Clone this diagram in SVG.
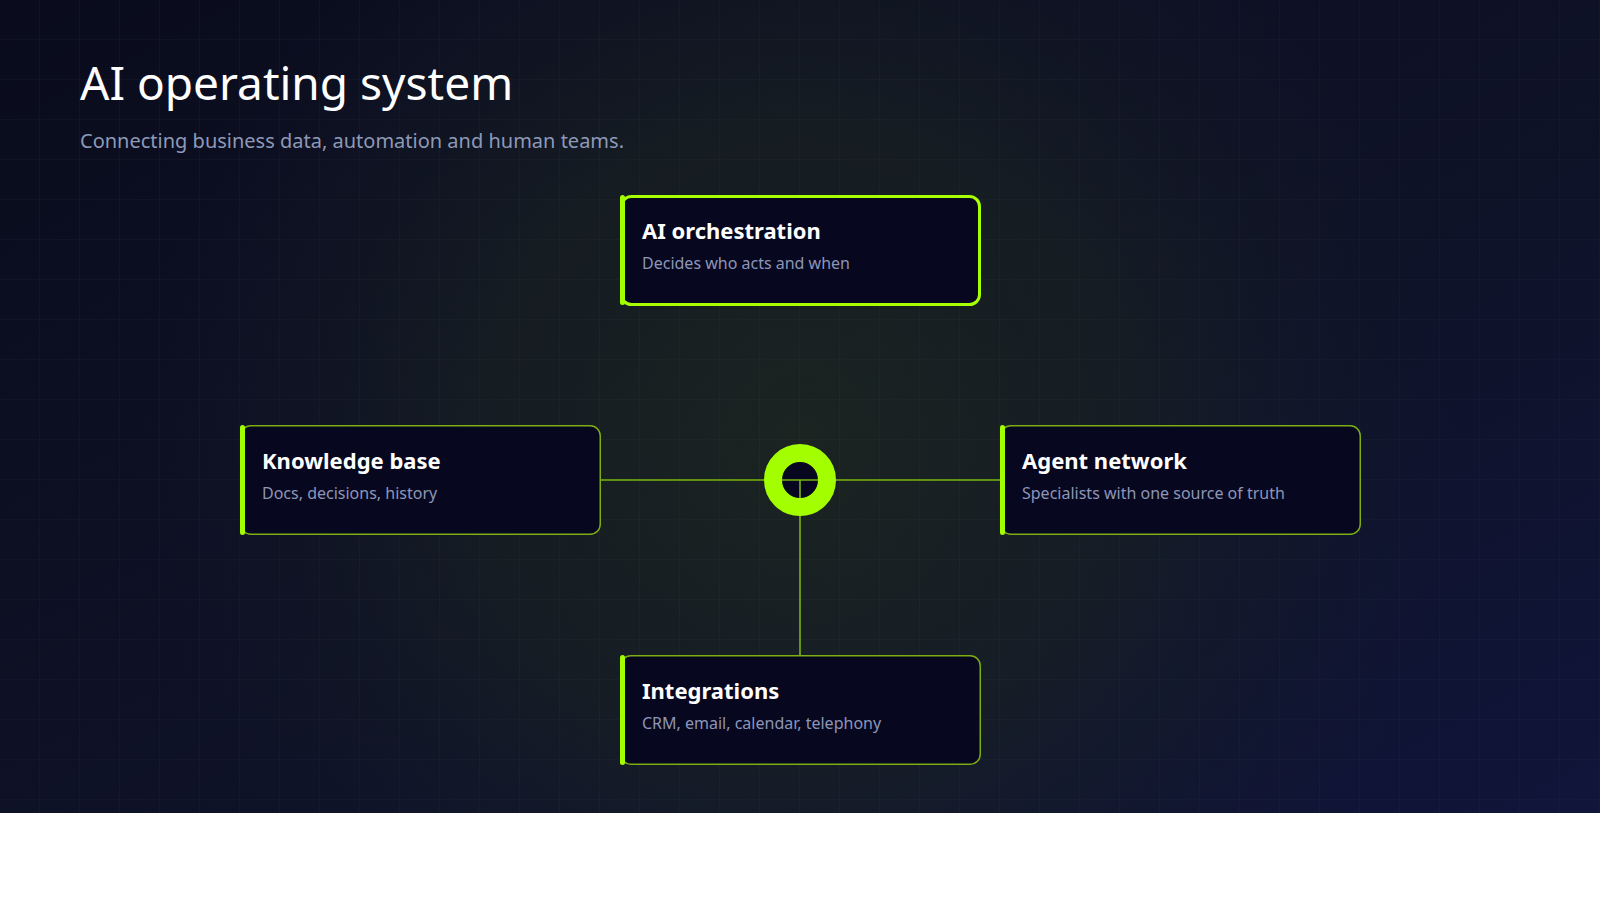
<svg xmlns="http://www.w3.org/2000/svg" width="1600" height="900" viewBox="0 0 1600 900">
  <defs>
    <linearGradient id="bg" x1="0" y1="0" x2="1" y2="1">
      <stop offset="0" stop-color="#0a0c1d"/>
      <stop offset="0.55" stop-color="#0e1226"/>
      <stop offset="1" stop-color="#10153a"/>
    </linearGradient>
    <radialGradient id="glow" cx="800" cy="440" r="660" gradientUnits="userSpaceOnUse">
      <stop offset="0" stop-color="#1d2720" stop-opacity="0.85"/>
      <stop offset="0.5" stop-color="#1a2322" stop-opacity="0.6"/>
      <stop offset="1" stop-color="#141a2a" stop-opacity="0"/>
    </radialGradient>
    <pattern id="grid" width="40" height="40" patternUnits="userSpaceOnUse">
      <path d="M40 0V40M0 40H40" fill="none" stroke="#8fb07a" stroke-opacity="0.07" stroke-width="1"/>
    </pattern>
    <style>
      .node { fill: #070720; stroke: #7cae14; stroke-width: 1.5; }
      .node.active { stroke: #a8ff00; stroke-width: 3; }
      .bar { fill: #a3ff00; }
      .title { font-family: "Noto Sans", "Open Sans", sans-serif; font-weight: 700; font-size: 22px; fill: #ffffff; }
      .sub { font-family: "Noto Sans", "Open Sans", sans-serif; font-size: 16px; fill: #8d96b7; }
      .conn { stroke: #7ab40e; stroke-width: 1.6; fill: none; }
    </style>
  </defs>

  <rect x="0" y="0" width="1600" height="900" fill="#ffffff"/>
  <rect x="0" y="0" width="1600" height="813" fill="url(#bg)"/>
  <rect x="0" y="0" width="1600" height="813" fill="url(#glow)"/>
  <rect x="0" y="0" width="1600" height="813" fill="url(#grid)"/>

  <text x="80" y="100" font-family="Noto Sans, Open Sans, sans-serif" font-size="46" fill="#ffffff">AI operating system</text>
  <text x="80" y="148" font-family="Noto Sans, Open Sans, sans-serif" font-size="20" fill="#8e99b8">Connecting business data, automation and human teams.</text>

  <circle id="hub-core" cx="800" cy="480" r="19" fill="#070720"/>

  <g id="connectors">
    <line class="conn" x1="600" y1="480" x2="1000" y2="480"/>
    <line class="conn" x1="800" y1="480" x2="800" y2="655"/>
  </g>

  <g id="hub">
    <circle cx="800" cy="480" r="27" fill="none" stroke="#a3ff00" stroke-width="18"/>
  </g>

  <g id="node-orchestration">
    <rect class="node active" x="621.5" y="196.5" width="358" height="108" rx="10"/>
    <rect class="bar" x="620" y="195" width="5" height="110" rx="2.5"/>
    <text class="title" x="642" y="239">AI orchestration</text>
    <text class="sub" x="642" y="269">Decides who acts and when</text>
  </g>

  <g id="node-knowledge">
    <rect class="node" x="240.75" y="425.75" width="359.5" height="108.5" rx="10"/>
    <rect class="bar" x="240" y="425" width="5" height="110" rx="2.5"/>
    <text class="title" x="262" y="469">Knowledge base</text>
    <text class="sub" x="262" y="499">Docs, decisions, history</text>
  </g>

  <g id="node-agents">
    <rect class="node" x="1000.75" y="425.75" width="359.5" height="108.5" rx="10"/>
    <rect class="bar" x="1000" y="425" width="5" height="110" rx="2.5"/>
    <text class="title" x="1022" y="469">Agent network</text>
    <text class="sub" x="1022" y="499">Specialists with one source of truth</text>
  </g>

  <g id="node-integrations">
    <rect class="node" x="620.75" y="655.75" width="359.5" height="108.5" rx="10"/>
    <rect class="bar" x="620" y="655" width="5" height="110" rx="2.5"/>
    <text class="title" x="642" y="699">Integrations</text>
    <text class="sub" x="642" y="729">CRM, email, calendar, telephony</text>
  </g>
</svg>
